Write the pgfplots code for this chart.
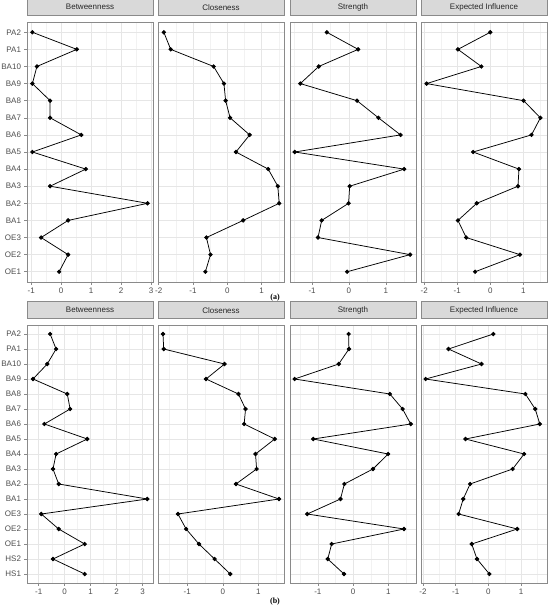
\documentclass[border=0pt]{standalone}
\usepackage{fontspec}
\setmainfont{Liberation Sans}
\newfontfamily\seriffont{Liberation Serif}
\usepackage{pgfplots}
\usepackage{pgfplotstable}
\pgfplotsset{compat=1.18}
\definecolor{stripfill}{HTML}{D9D9D9}
\definecolor{bordercol}{HTML}{8A8A8A}
\definecolor{gridmaj}{HTML}{E6E6E6}
\definecolor{gridmin}{HTML}{F2F2F2}
\definecolor{ticklab}{HTML}{4D4D4D}

\pgfplotstableread{
idx name bet clo str ei
15 PA2 -0.96 -1.85 -0.60 0.00
14 PA1 0.52 -1.65 0.25 -0.98
13 BA10 -0.81 -0.40 -0.82 -0.27
12 BA9 -0.96 -0.10 -1.32 -1.93
11 BA8 -0.37 -0.05 0.22 1.01
10 BA7 -0.37 0.08 0.80 1.52
9 BA6 0.67 0.65 1.40 1.25
8 BA5 -0.96 0.25 -1.47 -0.52
7 BA4 0.82 1.19 1.50 0.87
6 BA3 -0.37 1.47 0.02 0.84
5 BA2 2.88 1.51 -0.01 -0.41
4 BA1 0.23 0.46 -0.74 -0.98
3 OE3 -0.67 -0.61 -0.84 -0.73
2 OE2 0.23 -0.49 1.66 0.90
1 OE1 -0.07 -0.64 -0.05 -0.46
}\tableA

\pgfplotstableread{
idx name bet clo str ei
17 PA2 -0.56 -1.68 -0.13 0.15
16 PA1 -0.33 -1.66 -0.12 -1.22
15 BA10 -0.67 0.05 -0.41 -0.21
14 BA9 -1.22 -0.47 -1.66 -1.92
13 BA8 0.10 0.44 1.04 1.13
12 BA7 0.21 0.64 1.40 1.43
11 BA6 -0.78 0.60 1.63 1.57
10 BA5 0.87 1.46 -1.13 -0.70
9 BA4 -0.33 0.92 0.99 1.09
8 BA3 -0.45 0.95 0.56 0.74
7 BA2 -0.23 0.37 -0.25 -0.56
6 BA1 3.18 1.58 -0.36 -0.77
5 OE3 -0.90 -1.26 -1.30 -0.91
4 OE2 -0.23 -1.03 1.44 0.88
3 OE1 0.77 -0.67 -0.61 -0.51
2 HS2 -0.45 -0.23 -0.72 -0.35
1 HS1 0.77 0.21 -0.26 0.03
}\tableB

\pgfplotsset{
  facet/.style={
    scale only axis, width=126pt,
    axis line style={draw=bordercol, line width=0.6pt},
    grid=both,
    major grid style={draw=gridmaj, line width=0.55pt},
    minor grid style={draw=gridmin, line width=0.35pt},
    minor xtick={-2.5,-1.5,-0.5,0.5,1.5,2.5,3.5},
    tick align=outside, major tick length=2.5pt, minor tick length=0pt,
    tick style={draw=bordercol, line width=0.5pt},
    xtick pos=bottom, ytick pos=left,
    tick label style={font=\fontsize{8}{9}\selectfont, text=ticklab},
    /pgf/number format/assume math mode=true,
    title style={at={(0.5,1)}, anchor=south, draw=bordercol, line width=0.6pt,
      fill=stripfill, minimum width=126pt, minimum height=17pt, inner sep=0pt,
      font=\fontsize{8}{9}\selectfont, text=black!85},
  },
  rowA/.style={facet, height=260pt, ymin=0.4, ymax=15.6, ytick={1,...,15}},
  rowB/.style={facet, height=258pt, ymin=0.4, ymax=17.6, ytick={1,...,17}},
  noy/.style={yticklabels={}, ytick style={draw=none}},
  series/.style={black, line width=0.75pt, mark=*, mark size=1.8pt},
}

\begin{document}
\begin{tikzpicture}
\useasboundingbox (0,0) rectangle (550pt,-608pt);

% ---------- (a) ----------
\begin{axis}[rowA, at={(27pt,-282pt)}, anchor=south west, title=Betweenness,
  xmin=-1.14, xmax=3.06, xtick={-1,0,1,2,3},
  yticklabels={OE1,OE2,OE3,BA1,BA2,BA3,BA4,BA5,BA6,BA7,BA8,BA9,BA10,PA1,PA2}]
\addplot[series] table[x=bet, y=idx] {\tableA};
\end{axis}
\begin{axis}[rowA, noy, at={(158pt,-282pt)}, anchor=south west, title=Closeness,
  xmin=-2.02, xmax=1.65, xtick={-2,-1,0,1}]
\addplot[series] table[x=clo, y=idx] {\tableA};
\end{axis}
\begin{axis}[rowA, noy, at={(290pt,-282pt)}, anchor=south west, title=Strength,
  xmin=-1.6, xmax=1.82, xtick={-1,0,1}]
\addplot[series] table[x=str, y=idx] {\tableA};
\end{axis}
\begin{axis}[rowA, noy, at={(421pt,-282pt)}, anchor=south west, title=Expected Influence,
  xmin=-2.1, xmax=1.72, xtick={-2,-1,0,1}]
\addplot[series] table[x=ei, y=idx] {\tableA};
\end{axis}
\node[font=\seriffont\bfseries\fontsize{8}{9}\selectfont] at (275pt,-298pt) {(a)};

% ---------- (b) ----------
\begin{axis}[rowB, at={(27pt,-583pt)}, anchor=south west, title=Betweenness,
  xmin=-1.45, xmax=3.4, xtick={-1,0,1,2,3},
  yticklabels={HS1,HS2,OE1,OE2,OE3,BA1,BA2,BA3,BA4,BA5,BA6,BA7,BA8,BA9,BA10,PA1,PA2}]
\addplot[series] table[x=bet, y=idx] {\tableB};
\end{axis}
\begin{axis}[rowB, noy, at={(158pt,-583pt)}, anchor=south west, title=Closeness,
  xmin=-1.82, xmax=1.72, xtick={-1,0,1}]
\addplot[series] table[x=clo, y=idx] {\tableB};
\end{axis}
\begin{axis}[rowB, noy, at={(290pt,-583pt)}, anchor=south west, title=Strength,
  xmin=-1.79, xmax=1.78, xtick={-1,0,1}]
\addplot[series] table[x=str, y=idx] {\tableB};
\end{axis}
\begin{axis}[rowB, noy, at={(421pt,-583pt)}, anchor=south west, title=Expected Influence,
  xmin=-2.06, xmax=1.79, xtick={-2,-1,0,1}]
\addplot[series] table[x=ei, y=idx] {\tableB};
\end{axis}
\node[font=\seriffont\bfseries\fontsize{8}{9}\selectfont] at (275pt,-602pt) {(b)};
\end{tikzpicture}
\end{document}
